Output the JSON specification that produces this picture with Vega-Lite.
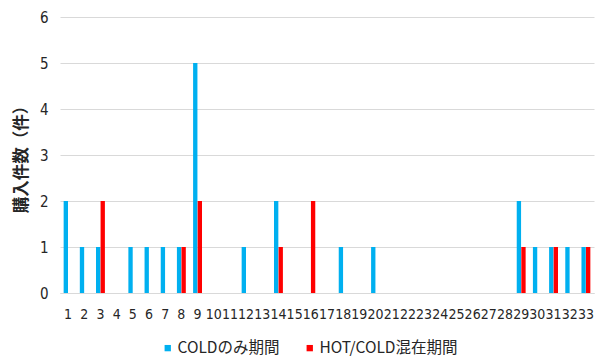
{
  "$schema": "https://vega.github.io/schema/vega-lite/v6.json",
  "autosize": {"type": "none"},
  "width": 534,
  "height": 276,
  "padding": {"left": 60, "top": 17, "right": 10, "bottom": 63},
  "background": "white",
  "data": {"values": [
    {"day": 1, "series": "COLDのみ期間", "count": 2},
    {"day": 2, "series": "COLDのみ期間", "count": 1},
    {"day": 3, "series": "COLDのみ期間", "count": 1},
    {"day": 3, "series": "HOT/COLD混在期間", "count": 2},
    {"day": 4, "series": "COLDのみ期間", "count": 0},
    {"day": 5, "series": "COLDのみ期間", "count": 1},
    {"day": 6, "series": "COLDのみ期間", "count": 1},
    {"day": 7, "series": "COLDのみ期間", "count": 1},
    {"day": 8, "series": "COLDのみ期間", "count": 1},
    {"day": 8, "series": "HOT/COLD混在期間", "count": 1},
    {"day": 9, "series": "COLDのみ期間", "count": 5},
    {"day": 9, "series": "HOT/COLD混在期間", "count": 2},
    {"day": 10, "series": "COLDのみ期間", "count": 0},
    {"day": 11, "series": "COLDのみ期間", "count": 0},
    {"day": 12, "series": "COLDのみ期間", "count": 1},
    {"day": 13, "series": "COLDのみ期間", "count": 0},
    {"day": 14, "series": "COLDのみ期間", "count": 2},
    {"day": 14, "series": "HOT/COLD混在期間", "count": 1},
    {"day": 15, "series": "COLDのみ期間", "count": 0},
    {"day": 16, "series": "HOT/COLD混在期間", "count": 2},
    {"day": 17, "series": "COLDのみ期間", "count": 0},
    {"day": 18, "series": "COLDのみ期間", "count": 1},
    {"day": 19, "series": "COLDのみ期間", "count": 0},
    {"day": 20, "series": "COLDのみ期間", "count": 1},
    {"day": 21, "series": "COLDのみ期間", "count": 0},
    {"day": 22, "series": "COLDのみ期間", "count": 0},
    {"day": 23, "series": "COLDのみ期間", "count": 0},
    {"day": 24, "series": "COLDのみ期間", "count": 0},
    {"day": 25, "series": "COLDのみ期間", "count": 0},
    {"day": 26, "series": "COLDのみ期間", "count": 0},
    {"day": 27, "series": "COLDのみ期間", "count": 0},
    {"day": 28, "series": "COLDのみ期間", "count": 0},
    {"day": 29, "series": "COLDのみ期間", "count": 2},
    {"day": 29, "series": "HOT/COLD混在期間", "count": 1},
    {"day": 30, "series": "COLDのみ期間", "count": 1},
    {"day": 31, "series": "COLDのみ期間", "count": 1},
    {"day": 31, "series": "HOT/COLD混在期間", "count": 1},
    {"day": 32, "series": "COLDのみ期間", "count": 1},
    {"day": 33, "series": "COLDのみ期間", "count": 1},
    {"day": 33, "series": "HOT/COLD混在期間", "count": 1}
  ]},
  "mark": {"type": "bar"},
  "encoding": {
    "x": {
      "field": "day", "type": "ordinal", "sort": "ascending",
      "scale": {"paddingInner": 0.45, "paddingOuter": 0.225},
      "axis": {
        "title": null, "labelAngle": 0, "ticks": false, "tickSize": 0,
        "labelPadding": 14, "labelFont": "DejaVu Sans Condensed", "labelFontSize": 14,
        "labelColor": "#262626", "labelOverlap": false, "labelBound": false,
        "domainColor": "#d9d9d9", "domainWidth": 1, "grid": false
      }
    },
    "xOffset": {
      "field": "series", "type": "nominal",
      "scale": {"domain": ["COLDのみ期間", "HOT/COLD混在期間"], "paddingInner": 0.05}
    },
    "y": {
      "field": "count", "type": "quantitative",
      "scale": {"domain": [0, 6]},
      "axis": {
        "title": "購入件数（件）", "titleFont": "Noto Sans CJK JP", "titleFontSize": 16.5,
        "titleFontWeight": "bold", "titleColor": "#262626", "titlePadding": 10,
        "values": [0, 1, 2, 3, 4, 5, 6], "domain": false, "ticks": false,
        "labelPadding": 12, "labelFont": "DejaVu Sans Condensed", "labelFontSize": 15,
        "labelColor": "#262626", "gridColor": "#d9d9d9", "gridWidth": 1
      }
    },
    "color": {
      "field": "series", "type": "nominal",
      "scale": {"domain": ["COLDのみ期間", "HOT/COLD混在期間"], "range": ["#00B0F0", "#FF0000"]},
      "legend": {
        "title": null, "orient": "none", "direction": "horizontal",
        "legendX": 100, "legendY": 323,
        "symbolType": "square", "symbolSize": 40, "symbolStrokeWidth": 0,
        "labelFont": "Noto Sans CJK JP", "labelFontSize": 15.5, "labelColor": "#262626",
        "columnPadding": 22, "labelOffset": 2
      }
    }
  },
  "config": {"view": {"stroke": null}}
}
